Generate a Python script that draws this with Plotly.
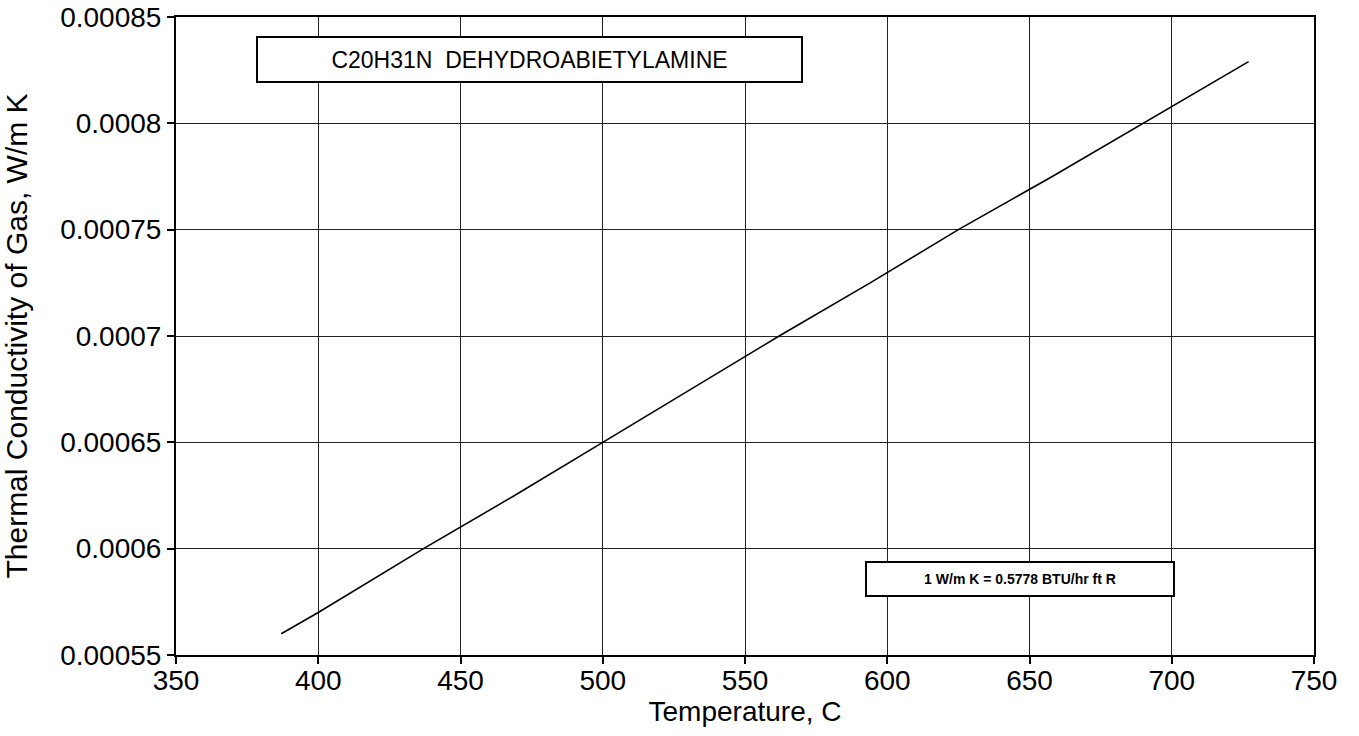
import plotly.graph_objects as go

temperature = [387, 400, 437, 469, 500, 531, 562, 594, 625, 658, 690, 727]
conductivity = [0.000560, 0.000570, 0.000600, 0.000625, 0.000650, 0.000675, 0.000700,
                0.000725, 0.000750, 0.000775, 0.000800, 0.000829]

x_ticks = [350, 400, 450, 500, 550, 600, 650, 700, 750]
y_ticks = [0.00055, 0.0006, 0.00065, 0.0007, 0.00075, 0.0008, 0.00085]
y_labels = ["0.00055", "0.0006", "0.00065", "0.0007", "0.00075", "0.0008", "0.00085"]

font = "Liberation Sans, Arial, sans-serif"

fig = go.Figure()
fig.add_trace(go.Scatter(x=temperature, y=conductivity, mode="lines",
                         line=dict(color="black", width=1.6),
                         showlegend=False, hoverinfo="skip"))

axis_common = dict(showgrid=True, gridcolor="#222", gridwidth=1,
                   showline=True, linecolor="black", linewidth=2, mirror=True,
                   ticks="outside", ticklen=7, tickcolor="black", tickwidth=2,
                   zeroline=False, automargin=False, ticklabeloverflow="allow",
                   tickfont=dict(size=28, family=font, color="black"))

fig.update_layout(
    width=1359, height=736,
    margin=dict(l=176, r=45, t=17, b=81),
    paper_bgcolor="white", plot_bgcolor="white",
    font=dict(family=font, size=28, color="black"),
    xaxis=dict(range=[350, 750], tickvals=x_ticks, ticklabelstandoff=-8,
               title=dict(text="Temperature, C", font=dict(size=28), standoff=4),
               **axis_common),
    yaxis=dict(range=[0.00055, 0.00085], tickvals=y_ticks, ticktext=y_labels,
               title=dict(text="Thermal Conductivity of Gas, W/m K", font=dict(size=30), standoff=24),
               **axis_common),
    annotations=[
        dict(x=474.3, y=0.000830, xref="x", yref="y", text="C20H31N  DEHYDROABIETYLAMINE",
             showarrow=False, font=dict(size=23, family=font), width=541, height=41,
             bordercolor="black", borderwidth=2, bgcolor="white", xanchor="center", yanchor="middle"),
        dict(x=646.7, y=0.0005857, xref="x", yref="y", text="<b>1 W/m K = 0.5778 BTU/hr ft R</b>",
             showarrow=False, font=dict(size=14, family=font), width=304, height=30,
             bordercolor="black", borderwidth=2, bgcolor="white", xanchor="center", yanchor="middle"),
    ],
)

fig.write_html("out.html", config={"displayModeBar": False},
               post_script="document.body.style.margin='0';document.body.style.overflow='hidden';")
